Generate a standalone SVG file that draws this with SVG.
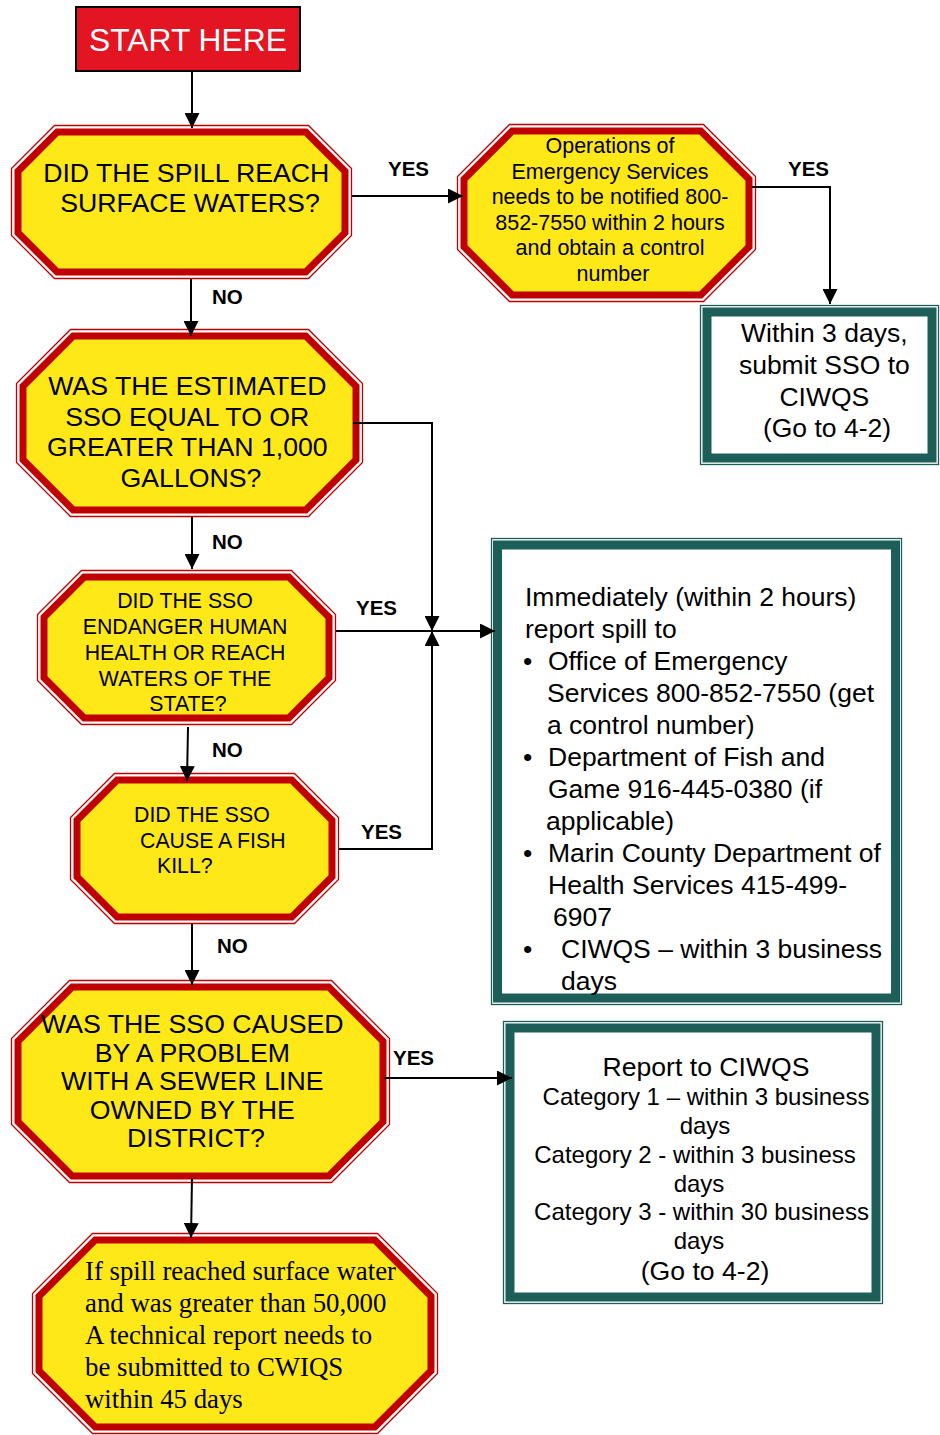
<svg xmlns="http://www.w3.org/2000/svg" width="940" height="1435" viewBox="0 0 940 1435">
  <style>
    .sans { font-family: "Liberation Sans", Arial, sans-serif; fill: #000; }
    .serif { font-family: "Liberation Serif", "Times New Roman", serif; fill: #000; }
    .oct-rim { fill: #fff; stroke: #c00000; stroke-width: 1.3; }
    .oct-band { fill: #ffe817; stroke: #c00000; stroke-width: 7; stroke-linejoin: miter; }
    .box-rim { fill: #fff; stroke: #1d5f58; stroke-width: 1.3; }
    .box-band { fill: #fff; stroke: #1d5f58; stroke-width: 9; }
    .lbl { font-family: "Liberation Sans", Arial, sans-serif; font-weight: bold; font-size: 20.5px; fill: #000; }
    .conn path { fill: none; stroke: #000; stroke-width: 2; marker-end: url(#arrow); }
  </style>
  <defs>
    <marker id="arrow" markerUnits="userSpaceOnUse" markerWidth="15" markerHeight="15" refX="15" refY="7.5" orient="auto">
      <path d="M0,0 L15,7.5 L0,15 z" fill="#000"/>
    </marker>
  </defs>

  <rect width="940" height="1435" fill="#fff"/>

  <!-- start -->
  <g id="start">
    <rect x="76" y="7" width="224" height="64" fill="#e31523" stroke="#000" stroke-width="2"/>
    <text class="sans" x="188" y="51" font-size="31.8" text-anchor="middle" style="fill:#fff">START HERE</text>
  </g>

  <!-- decision: surface waters -->
  <g id="q-surface">
    <polygon class="oct-rim" points="54.5,125.5 308.5,125.5 351.5,168.5 351.5,235.5 308.5,278.5 54.5,278.5 11.5,235.5 11.5,168.5"/>
    <polygon class="oct-band" points="57.2,132 305.8,132 345,171.2 345,232.8 305.8,272 57.2,272 18,232.8 18,171.2"/>
    <text class="sans" font-size="26.7" text-anchor="middle">
      <tspan x="190" y="182">DID THE SPILL REACH</tspan>
      <tspan x="190" y="212">SURFACE WATERS?</tspan>
    </text>
  </g>

  <!-- action: notify OES -->
  <g id="notify-oes">
    <polygon class="oct-rim" points="509.5,124.5 703.5,124.5 755.5,176.5 755.5,249.5 703.5,301.5 509.5,301.5 457.5,249.5 457.5,176.5"/>
    <polygon class="oct-band" points="512.2,131 700.8,131 749,179.2 749,246.8 700.8,295 512.2,295 464,246.8 464,179.2"/>
    <text class="sans" font-size="21.5" text-anchor="middle">
      <tspan x="613" y="153">Operations of</tspan>
      <tspan x="613" y="178.5">Emergency Services</tspan>
      <tspan x="613" y="204">needs to be notified 800-</tspan>
      <tspan x="613" y="229.5">852-7550 within 2 hours</tspan>
      <tspan x="613" y="255">and obtain a control</tspan>
      <tspan x="613" y="280.5">number</tspan>
    </text>
  </g>

  <!-- action: submit within 3 days -->
  <g id="submit-3days">
    <rect class="box-rim" x="700.5" y="305.5" width="238" height="159"/>
    <rect class="box-band" x="707" y="312" width="225" height="146"/>
    <text class="sans" font-size="26.5" text-anchor="middle">
      <tspan x="828" y="342">Within 3 days,</tspan>
      <tspan x="828" y="374">submit SSO to</tspan>
      <tspan x="828" y="406">CIWQS</tspan>
      <tspan x="827" y="437">(Go to 4-2)</tspan>
    </text>
  </g>

  <!-- decision: volume -->
  <g id="q-volume">
    <polygon class="oct-rim" points="70.5,329.5 308.5,329.5 362.5,383.5 362.5,462.5 308.5,516.5 70.5,516.5 16.5,462.5 16.5,383.5"/>
    <polygon class="oct-band" points="73.2,336 305.8,336 356,386.2 356,459.8 305.8,510 73.2,510 23,459.8 23,386.2"/>
    <text class="sans" font-size="26.7" text-anchor="middle">
      <tspan x="191" y="395">WAS THE ESTIMATED</tspan>
      <tspan x="191" y="425.5">SSO EQUAL TO OR</tspan>
      <tspan x="191" y="456">GREATER THAN 1,000</tspan>
      <tspan x="191" y="486.5">GALLONS?</tspan>
    </text>
  </g>

  <!-- decision: endanger health -->
  <g id="q-health">
    <polygon class="oct-rim" points="81.5,570.5 291.5,570.5 335.5,614.5 335.5,680.5 291.5,724.5 81.5,724.5 37.5,680.5 37.5,614.5"/>
    <polygon class="oct-band" points="84.2,577 288.8,577 329,617.2 329,677.8 288.8,718 84.2,718 44,677.8 44,617.2"/>
    <text class="sans" font-size="21.3" text-anchor="middle">
      <tspan x="188" y="608">DID THE SSO</tspan>
      <tspan x="188" y="634">ENDANGER HUMAN</tspan>
      <tspan x="188" y="660">HEALTH OR REACH</tspan>
      <tspan x="188" y="685.5">WATERS OF THE</tspan>
      <tspan x="188" y="711">STATE?</tspan>
    </text>
  </g>

  <!-- action: immediate reporting -->
  <g id="report-immediately">
    <rect class="box-rim" x="491.5" y="538.5" width="410" height="466"/>
    <rect class="box-band" x="497.5" y="545" width="398" height="453"/>
    <g class="sans" font-size="26.5">
      <text x="525" y="606">Immediately (within 2 hours)</text>
      <text x="525" y="638">report spill to</text>
      <text x="523" y="670">•</text>
      <text x="548" y="670">Office of Emergency</text>
      <text x="547" y="702">Services 800-852-7550 (get</text>
      <text x="547" y="734">a control number)</text>
      <text x="523" y="766">•</text>
      <text x="548" y="766">Department of Fish and</text>
      <text x="548" y="798">Game 916-445-0380 (if</text>
      <text x="546" y="830">applicable)</text>
      <text x="523" y="862">•</text>
      <text x="548" y="862">Marin County Department of</text>
      <text x="548" y="894">Health Services 415-499-</text>
      <text x="553" y="926">6907</text>
      <text x="523" y="958">•</text>
      <text x="561" y="958">CIWQS – within 3 business</text>
      <text x="561" y="990">days</text>
    </g>
  </g>

  <!-- decision: fish kill -->
  <g id="q-fish">
    <polygon class="oct-rim" points="114.5,773.5 294.5,773.5 338.5,817.5 338.5,879.5 294.5,923.5 114.5,923.5 70.5,879.5 70.5,817.5"/>
    <polygon class="oct-band" points="117.2,780 291.8,780 332,820.2 332,876.8 291.8,917 117.2,917 77,876.8 77,820.2"/>
    <text class="sans" font-size="21.3">
      <tspan x="134" y="822">DID THE SSO</tspan>
      <tspan x="140" y="847.5">CAUSE A FISH</tspan>
      <tspan x="157" y="873">KILL?</tspan>
    </text>
  </g>

  <!-- decision: district sewer line -->
  <g id="q-district">
    <polygon class="oct-rim" points="69.5,980.5 331.5,980.5 389.5,1038.5 389.5,1124.5 331.5,1182.5 69.5,1182.5 11.5,1124.5 11.5,1038.5"/>
    <polygon class="oct-band" points="72.2,987 328.8,987 383,1041.2 383,1121.8 328.8,1176 72.2,1176 18,1121.8 18,1041.2"/>
    <text class="sans" font-size="26.7" text-anchor="middle">
      <tspan x="196" y="1033">WAS THE SSO CAUSED</tspan>
      <tspan x="196" y="1061.5">BY A PROBLEM</tspan>
      <tspan x="196" y="1090">WITH A SEWER LINE</tspan>
      <tspan x="196" y="1118.5">OWNED BY THE</tspan>
      <tspan x="196" y="1147">DISTRICT?</tspan>
    </text>
  </g>

  <!-- action: category reporting -->
  <g id="report-ciwqs">
    <rect class="box-rim" x="503.5" y="1021.5" width="379" height="282"/>
    <rect class="box-band" x="510" y="1028" width="366" height="269"/>
    <g class="sans" text-anchor="middle">
      <text x="706" y="1076" font-size="26.6">Report to CIWQS</text>
      <text x="706" y="1105" font-size="24">Category 1 – within 3 business</text>
      <text x="705" y="1134" font-size="24">days</text>
      <text x="695" y="1163" font-size="24">Category 2 - within 3 business</text>
      <text x="699" y="1192" font-size="24">days</text>
      <text x="701.5" y="1220" font-size="24">Category 3 - within 30 business</text>
      <text x="699" y="1249" font-size="24">days</text>
      <text x="705" y="1280" font-size="26.6">(Go to 4-2)</text>
    </g>
  </g>

  <!-- action: technical report -->
  <g id="technical-report">
    <polygon class="oct-rim" points="92.5,1233.5 377.5,1233.5 437.5,1293.5 437.5,1373.5 377.5,1433.5 92.5,1433.5 32.5,1373.5 32.5,1293.5"/>
    <polygon class="oct-band" points="95.2,1240 374.8,1240 431,1296.2 431,1370.8 374.8,1427 95.2,1427 39,1370.8 39,1296.2"/>
    <text class="serif" font-size="26.8">
      <tspan x="85" y="1280">If spill reached surface water</tspan>
      <tspan x="85" y="1312">and was greater than 50,000</tspan>
      <tspan x="85" y="1344">A technical report needs to</tspan>
      <tspan x="85" y="1376">be submitted to CWIQS</tspan>
      <tspan x="85" y="1408">within 45 days</tspan>
    </text>
  </g>

  <!-- connectors -->
  <g id="connectors" class="conn">
    <path d="M192,71 V128"/>
    <path d="M352,196 H463"/>
    <path d="M752,187 H830 V304"/>
    <path d="M191,279 V336"/>
    <path d="M353,423 H432 V631"/>
    <path d="M192,517 V569"/>
    <path d="M336,631 H495"/>
    <path d="M339,849 H432 V631"/>
    <path d="M188,727 L187,781"/>
    <path d="M192,924 V985"/>
    <path d="M384,1078 H512"/>
    <path d="M192,1178 L191,1238"/>
  </g>

  <!-- branch labels -->
  <g id="labels">
    <text class="lbl" x="388" y="176">YES</text>
    <text class="lbl" x="788" y="176">YES</text>
    <text class="lbl" x="212" y="304">NO</text>
    <text class="lbl" x="212" y="549">NO</text>
    <text class="lbl" x="356" y="615">YES</text>
    <text class="lbl" x="212" y="757">NO</text>
    <text class="lbl" x="361" y="839">YES</text>
    <text class="lbl" x="217" y="953">NO</text>
    <text class="lbl" x="393" y="1065">YES</text>
  </g>
</svg>
